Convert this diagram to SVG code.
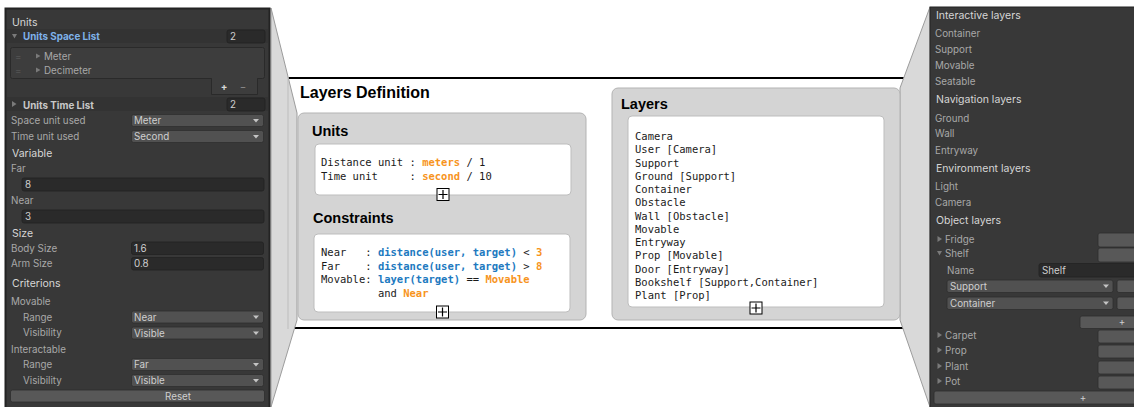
<svg xmlns="http://www.w3.org/2000/svg" width="1134" height="407" viewBox="0 0 1134 407">
<style>
.ui{font-family:Inter,"Noto Sans","Liberation Sans",sans-serif;font-size:9.8px;fill:#a8a8a8}
.hdr{font-size:10.5px;fill:#d6d6d6}
.val{fill:#cfcfcf}
.bold{font-weight:bold}
.fld{fill:#2a2a2a;stroke:#222;stroke-width:0.8}
.dd{fill:#515151;stroke:#2e2e2e;stroke-width:0.8}
.btn{fill:#585858;stroke:#2e2e2e;stroke-width:0.8}
.band{fill:#333333}
.tri{fill:#7a7a7a}
.arr{fill:#c4c4c4}
.title{font-family:"Liberation Sans",Arial,sans-serif;font-weight:bold;fill:#000}
.mono{font-family:"DejaVu Sans Mono","Liberation Mono",monospace;font-size:10.5px;fill:#1a1a1a;white-space:pre}
.or{fill:#f7941d;font-weight:bold}
.bl{fill:#2179bf;font-weight:bold}
.gbox{fill:#d4d4d4;stroke:#b3b3b3;stroke-width:1}
.wbox{fill:#fff;stroke:#bdbdbd;stroke-width:1}
.zoom{fill:#d9d9d9;stroke:#9c9c9c;stroke-width:1}
</style>
<defs>
<g id="plus">
<rect x="-6" y="-6" width="12" height="12" fill="#fff" stroke="#000" stroke-width="1"/>
<path d="M-4.5 0H4.5M0 -4.5V4.5" stroke="#000" stroke-width="1.2"/>
</g>
</defs>
<rect width="1134" height="407" fill="#fff"/>

<g id="layers-definition">
<rect x="288" y="78" width="614" height="250" fill="#fff"/>
<line x1="288" y1="78" x2="904" y2="78" stroke="#000" stroke-width="2"/>
<line x1="288" y1="328" x2="904" y2="328" stroke="#000" stroke-width="2"/>
<text x="300" y="98" class="title" font-size="16">Layers Definition</text>
</g>

<g id="connectors">
<polygon class="zoom" points="271,8 297,113 297,320 271,407"/>
<line x1="288" y1="77" x2="288" y2="329" stroke="#bdbdbd" stroke-width="1"/>
<polygon class="zoom" points="900,88 930,7 930,407 900,320"/>
</g>

<g id="units-constraints">
<rect class="gbox" x="298" y="113" width="288" height="207" rx="6"/>
<g id="units">
<text x="312" y="136" class="title" font-size="14.5">Units</text>
<rect class="wbox" x="315" y="144" width="256" height="51" rx="4"/>
<text x="321" y="166" class="mono">Distance unit : <tspan class="or">meters</tspan> / 1</text>
<text x="321" y="180" class="mono">Time unit     : <tspan class="or">second</tspan> / 10</text>
<use href="#plus" x="443" y="194.5"/>
</g>
<g id="constraints">
<text x="313" y="223" class="title" font-size="14.5">Constraints</text>
<rect class="wbox" x="314" y="234" width="256" height="78" rx="4"/>
<text x="321" y="256" class="mono">Near   : <tspan class="bl">distance(user, target)</tspan> &lt; <tspan class="or">3</tspan></text>
<text x="321" y="270" class="mono">Far    : <tspan class="bl">distance(user, target)</tspan> &gt; <tspan class="or">8</tspan></text>
<text x="321" y="283" class="mono">Movable: <tspan class="bl">layer(target)</tspan> == <tspan class="or">Movable</tspan></text>
<text x="321" y="296.5" class="mono">         and <tspan class="or">Near</tspan></text>
<use href="#plus" x="442.5" y="312"/>
</g>
</g>

<g id="layers">
<rect class="gbox" x="612" y="88" width="288" height="232" rx="6"/>
<text x="621" y="109" class="title" font-size="14.5">Layers</text>
<rect class="wbox" x="628" y="116" width="256" height="191" rx="4"/>
<text x="635" y="140" class="mono">Camera</text>
<text x="635" y="153.25" class="mono">User [Camera]</text>
<text x="635" y="166.5" class="mono">Support</text>
<text x="635" y="179.75" class="mono">Ground [Support]</text>
<text x="635" y="193" class="mono">Container</text>
<text x="635" y="206.25" class="mono">Obstacle</text>
<text x="635" y="219.5" class="mono">Wall [Obstacle]</text>
<text x="635" y="232.75" class="mono">Movable</text>
<text x="635" y="246" class="mono">Entryway</text>
<text x="635" y="259.25" class="mono">Prop [Movable]</text>
<text x="635" y="272.5" class="mono">Door [Entryway]</text>
<text x="635" y="285.75" class="mono">Bookshelf [Support,Container]</text>
<text x="635" y="299" class="mono">Plant [Prop]</text>
<use href="#plus" x="756" y="308"/>
</g>

<g id="units-inspector">
<rect x="5.5" y="8.5" width="264" height="402" fill="#383838" stroke="#232323" stroke-width="2"/>
<text x="12" y="26" class="ui hdr">Units</text>
<rect class="band" x="7" y="29" width="261" height="14"/>
<polygon class="tri" points="12,34 17,34 14.5,38.5"/>
<text x="23" y="40" class="ui bold" style="fill:#7fb2ea">Units Space List</text>
<rect class="fld" x="227" y="30" width="38" height="13" rx="2"/>
<text x="230" y="40" class="ui val">2</text>
<rect x="10.5" y="47.5" width="254" height="31" rx="2" fill="#3d3d3d" stroke="#2a2a2a"/>
<text x="15" y="60" class="ui" style="fill:#555">=</text>
<text x="15" y="74" class="ui" style="fill:#555">=</text>
<polygon class="tri" points="36,53.5 36,58.5 40.5,56"/>
<text x="44" y="60" class="ui">Meter</text>
<polygon class="tri" points="36,67.5 36,72.5 40.5,70"/>
<text x="44" y="74" class="ui">Decimeter</text>
<path d="M211.5 78.5V94.5H257.5V78.5" fill="#3d3d3d" stroke="#2a2a2a"/>
<rect x="212" y="77" width="45" height="3" fill="#3d3d3d"/>
<text x="224" y="90" class="ui bold" text-anchor="middle" style="fill:#d8d8d8">+</text>
<text x="243" y="90" class="ui" text-anchor="middle" style="fill:#8e8e8e">−</text>
<rect class="band" x="7" y="97" width="261" height="14"/>
<polygon class="tri" points="12,101 12,107 16.5,104"/>
<text x="23" y="109" class="ui bold" style="fill:#c8c8c8">Units Time List</text>
<rect class="fld" x="227" y="98" width="38" height="13" rx="2"/>
<text x="230" y="108" class="ui val">2</text>
<text x="11" y="124" class="ui">Space unit used</text>
<rect class="dd" x="131.5" y="114.5" width="132" height="12" rx="2"/>
<text x="134" y="124" class="ui val">Meter</text>
<polygon class="arr" points="253,119 259,119 256,122.5"/>
<text x="11" y="140" class="ui">Time unit used</text>
<rect class="dd" x="131.5" y="130.5" width="132" height="12" rx="2"/>
<text x="134" y="140" class="ui val">Second</text>
<polygon class="arr" points="253,135 259,135 256,138.5"/>
<text x="12" y="157" class="ui hdr">Variable</text>
<text x="11" y="172" class="ui">Far</text>
<rect class="fld" x="22" y="178" width="242" height="13" rx="2"/>
<text x="25" y="188" class="ui val">8</text>
<text x="11" y="204" class="ui">Near</text>
<rect class="fld" x="22" y="210" width="242" height="13" rx="2"/>
<text x="25" y="220" class="ui val">3</text>
<text x="12" y="237" class="ui hdr">Size</text>
<text x="11" y="252" class="ui">Body Size</text>
<rect class="fld" x="131.5" y="242" width="132" height="12.5" rx="2"/>
<text x="134" y="252" class="ui val">1.6</text>
<text x="11" y="267" class="ui">Arm Size</text>
<rect class="fld" x="131.5" y="257.5" width="132" height="12.5" rx="2"/>
<text x="134" y="267" class="ui val">0.8</text>
<text x="12" y="287" class="ui hdr">Criterions</text>
<text x="11" y="305" class="ui">Movable</text>
<text x="23" y="321" class="ui">Range</text>
<rect class="dd" x="131.5" y="311" width="132" height="12" rx="2"/>
<text x="134" y="320.5" class="ui val">Near</text>
<polygon class="arr" points="253,315.5 259,315.5 256,319"/>
<text x="23" y="336" class="ui">Visibility</text>
<rect class="dd" x="131.5" y="327" width="132" height="12" rx="2"/>
<text x="134" y="336.5" class="ui val">Visible</text>
<polygon class="arr" points="253,331.5 259,331.5 256,335"/>
<text x="11" y="353" class="ui">Interactable</text>
<text x="23" y="368" class="ui">Range</text>
<rect class="dd" x="131.5" y="358.5" width="132" height="12" rx="2"/>
<text x="134" y="368" class="ui val">Far</text>
<polygon class="arr" points="253,363 259,363 256,366.5"/>
<text x="23" y="384" class="ui">Visibility</text>
<rect class="dd" x="131.5" y="374.5" width="132" height="12" rx="2"/>
<text x="134" y="384" class="ui val">Visible</text>
<polygon class="arr" points="253,379 259,379 256,382.5"/>
<rect class="btn" x="10.5" y="390" width="254" height="12" rx="2"/>
<text x="178" y="400" class="ui val" text-anchor="middle">Reset</text>
</g>

<g id="layers-inspector">
<rect x="930" y="7" width="210" height="405" fill="#383838" stroke="#232323" stroke-width="1"/>
<text x="936" y="19" class="ui hdr">Interactive layers</text>
<text x="935" y="37" class="ui">Container</text>
<text x="935" y="53" class="ui">Support</text>
<text x="935" y="69" class="ui">Movable</text>
<text x="935" y="85" class="ui">Seatable</text>
<text x="936" y="103" class="ui hdr">Navigation layers</text>
<text x="935" y="121.5" class="ui">Ground</text>
<text x="935" y="137" class="ui">Wall</text>
<text x="935" y="153.5" class="ui">Entryway</text>
<text x="936" y="172" class="ui hdr">Environment layers</text>
<text x="935" y="190" class="ui">Light</text>
<text x="935" y="206" class="ui">Camera</text>
<text x="936" y="224" class="ui hdr">Object layers</text>
<polygon class="tri" points="937.5,236 937.5,242 942,239"/>
<text x="945" y="243" class="ui">Fridge</text>
<rect class="btn" x="1098" y="233" width="40" height="14" rx="2"/>
<polygon class="tri" points="937,251 942,251 939.5,255.5"/>
<text x="945" y="257" class="ui">Shelf</text>
<rect class="btn" x="1098" y="248" width="40" height="14" rx="2"/>
<text x="947" y="274" class="ui">Name</text>
<rect class="fld" x="1039" y="263.5" width="100" height="13.5" rx="2"/>
<text x="1042" y="274" class="ui val">Shelf</text>
<rect class="dd" x="947" y="280" width="166" height="12.5" rx="2"/>
<text x="950" y="290" class="ui val">Support</text>
<polygon class="arr" points="1103,284.5 1109,284.5 1106,288"/>
<rect class="btn" x="1117" y="280" width="22" height="12.5" rx="2"/>
<rect class="dd" x="947" y="297" width="166" height="12.5" rx="2"/>
<text x="950" y="306.5" class="ui val">Container</text>
<polygon class="arr" points="1103,301.5 1109,301.5 1106,305"/>
<rect class="btn" x="1117" y="297" width="22" height="12.5" rx="2"/>
<rect class="btn" x="1080" y="316" width="60" height="12.5" rx="2"/>
<text x="1122" y="325" class="ui val" text-anchor="middle" font-size="8">+</text>
<polygon class="tri" points="937.5,332 937.5,338 942,335"/>
<text x="945" y="339" class="ui">Carpet</text>
<rect class="btn" x="1098" y="330" width="40" height="13" rx="2"/>
<polygon class="tri" points="937.5,347 937.5,353 942,350"/>
<text x="945" y="354" class="ui">Prop</text>
<rect class="btn" x="1098" y="345" width="40" height="13" rx="2"/>
<polygon class="tri" points="937.5,363 937.5,369 942,366"/>
<text x="945" y="370" class="ui">Plant</text>
<rect class="btn" x="1098" y="361" width="40" height="13" rx="2"/>
<polygon class="tri" points="937.5,378 937.5,384 942,381"/>
<text x="945" y="385" class="ui">Pot</text>
<rect class="btn" x="1098" y="376" width="40" height="13" rx="2"/>
<rect class="btn" x="934" y="391" width="206" height="13" rx="2"/>
<text x="1083" y="401" class="ui val" text-anchor="middle" font-size="8">+</text>
</g>
</svg>
